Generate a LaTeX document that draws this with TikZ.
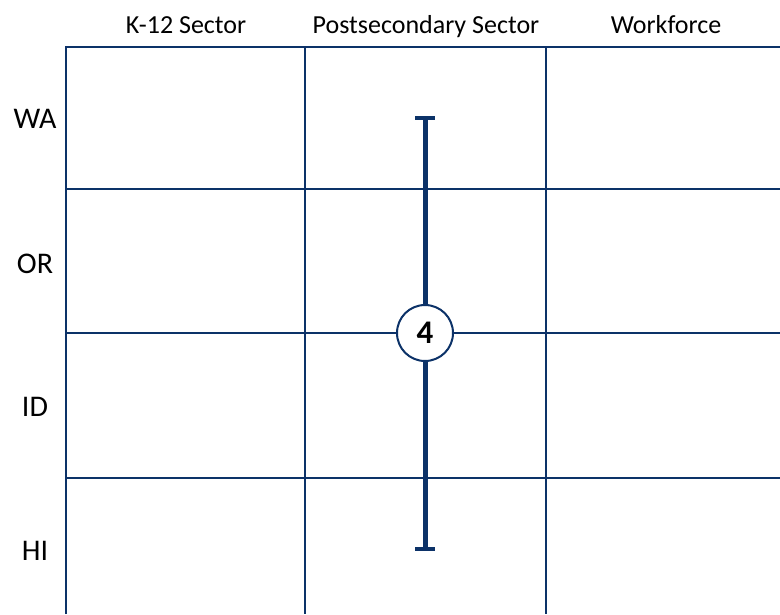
\documentclass[tikz,border=0pt]{standalone}
\usepackage{fontspec}
\setmainfont{Carlito}
\definecolor{navy}{HTML}{0C3268}
\begin{document}
\begin{tikzpicture}[x=1pt,y=-1pt,
  hdr/.style={anchor=base,font=\fontsize{26}{30}\selectfont,text=black,inner sep=0pt},
  rowlab/.style={anchor=base,font=\fontsize{30}{34}\selectfont,text=black,inner sep=0pt},
  thinline/.style={draw=navy,line width=1.4pt},
  thickline/.style={draw=navy,line width=2.8pt},
  bar/.style={draw=navy,line width=5pt},
  capbar/.style={draw=navy,line width=4pt},
  badge/.style={circle,draw=navy,line width=2pt,fill=white,minimum size=56pt,inner sep=0pt,font=\fontsize{33}{36}\selectfont\bfseries}]
\useasboundingbox (0,0) rectangle (780,614);
% grid
\draw[thinline] (305,47) -- (305,614);
\draw[thinline] (546,47) -- (546,614);
\draw[thinline] (66,189) -- (780,189);
\draw[thinline] (66,333) -- (780,333);
\draw[thinline] (66,478) -- (780,478);
\draw[thickline] (66,614) -- (66,47) -- (780,47);
% headers
\node[hdr] (h1) at (186,33) {K-12 Sector};
\node[hdr] (h2) at (426,33) {Postsecondary Sector};
\node[hdr] (h3) at (666,33) {Workforce};
% row labels
\node[rowlab] (wa) at (35,128) {WA};
\node[rowlab] (or) at (35,273) {OR};
\node[rowlab] (id) at (35,416) {ID};
\node[rowlab] (hi) at (35,560) {HI};
% range bar
\coordinate (top) at (425,118);
\coordinate (bot) at (425,549);
\draw[bar] (top) -- (bot);
\draw[capbar] ([xshift=-10pt]top) -- ([xshift=10pt]top);
\draw[capbar] ([xshift=-10pt]bot) -- ([xshift=10pt]bot);
\node[badge] (four) at (425,333) {4};
\end{tikzpicture}
\end{document}
